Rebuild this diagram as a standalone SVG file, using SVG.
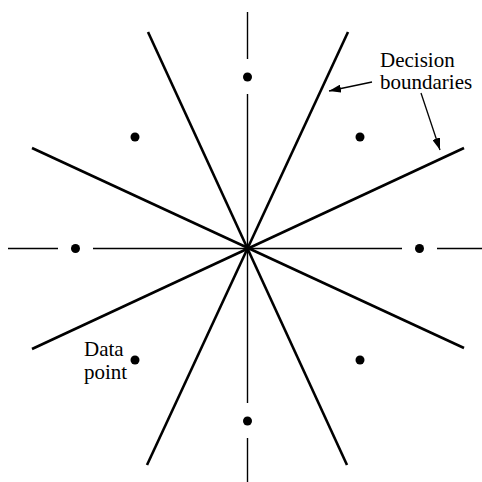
<svg xmlns="http://www.w3.org/2000/svg" width="482" height="482" viewBox="0 0 482 482">
<style>
.axis{stroke:#000;stroke-width:1.4;fill:none}
.bound{stroke:#000;stroke-width:2.6;fill:none;stroke-linecap:butt}
.arr{stroke:#000;stroke-width:1.3;fill:none}
.dot{fill:#000}
.lbl{font-family:"Liberation Serif","Times New Roman",serif;font-size:21px;fill:#000}
</style>
<defs>
<marker id="ah" viewBox="0 0 12 8" refX="12" refY="4" markerWidth="12" markerHeight="8" markerUnits="userSpaceOnUse" orient="auto">
<path d="M0,0 L12,4 L0,8 z" fill="#000"/>
</marker>
</defs>
<g id="connectors">
<g id="axes">
<line class="axis" x1="247.5" y1="12" x2="247.5" y2="59"/>
<line class="axis" x1="247.5" y1="94" x2="247.5" y2="403"/>
<line class="axis" x1="247.5" y1="438" x2="247.5" y2="482"/>
<line class="axis" x1="8" y1="248.5" x2="58" y2="248.5"/>
<line class="axis" x1="93" y1="248.5" x2="402" y2="248.5"/>
<line class="axis" x1="437" y1="248.5" x2="482" y2="248.5"/>
</g>
<g id="boundaries">
<line class="bound" x1="148" y1="32" x2="347" y2="465"/>
<line class="bound" x1="348" y1="32" x2="147" y2="465"/>
<line class="bound" x1="32" y1="148" x2="464" y2="348"/>
<line class="bound" x1="464" y1="148" x2="32" y2="349"/>
</g>
<line class="arr" x1="372" y1="82" x2="329" y2="91" marker-end="url(#ah)"/>
<line class="arr" x1="421" y1="93" x2="440" y2="150" marker-end="url(#ah)"/>
</g>
<g id="points">
<circle class="dot" cx="247.5" cy="77" r="4.5"/>
<circle class="dot" cx="247.5" cy="421" r="4.5"/>
<circle class="dot" cx="75.5" cy="248.5" r="4.5"/>
<circle class="dot" cx="419.5" cy="248.5" r="4.5"/>
<circle class="dot" cx="135" cy="137" r="4.5"/>
<circle class="dot" cx="360" cy="137" r="4.5"/>
<circle class="dot" cx="135" cy="360" r="4.5"/>
<circle class="dot" cx="360" cy="360" r="4.5"/>
</g>
<g id="label-decision">
<text class="lbl" x="380" y="67">Decision</text>
<text class="lbl" x="380" y="89">boundaries</text>
</g>
<g id="label-data">
<text class="lbl" x="84" y="356">Data</text>
<text class="lbl" x="84" y="379">point</text>
</g>
</svg>
